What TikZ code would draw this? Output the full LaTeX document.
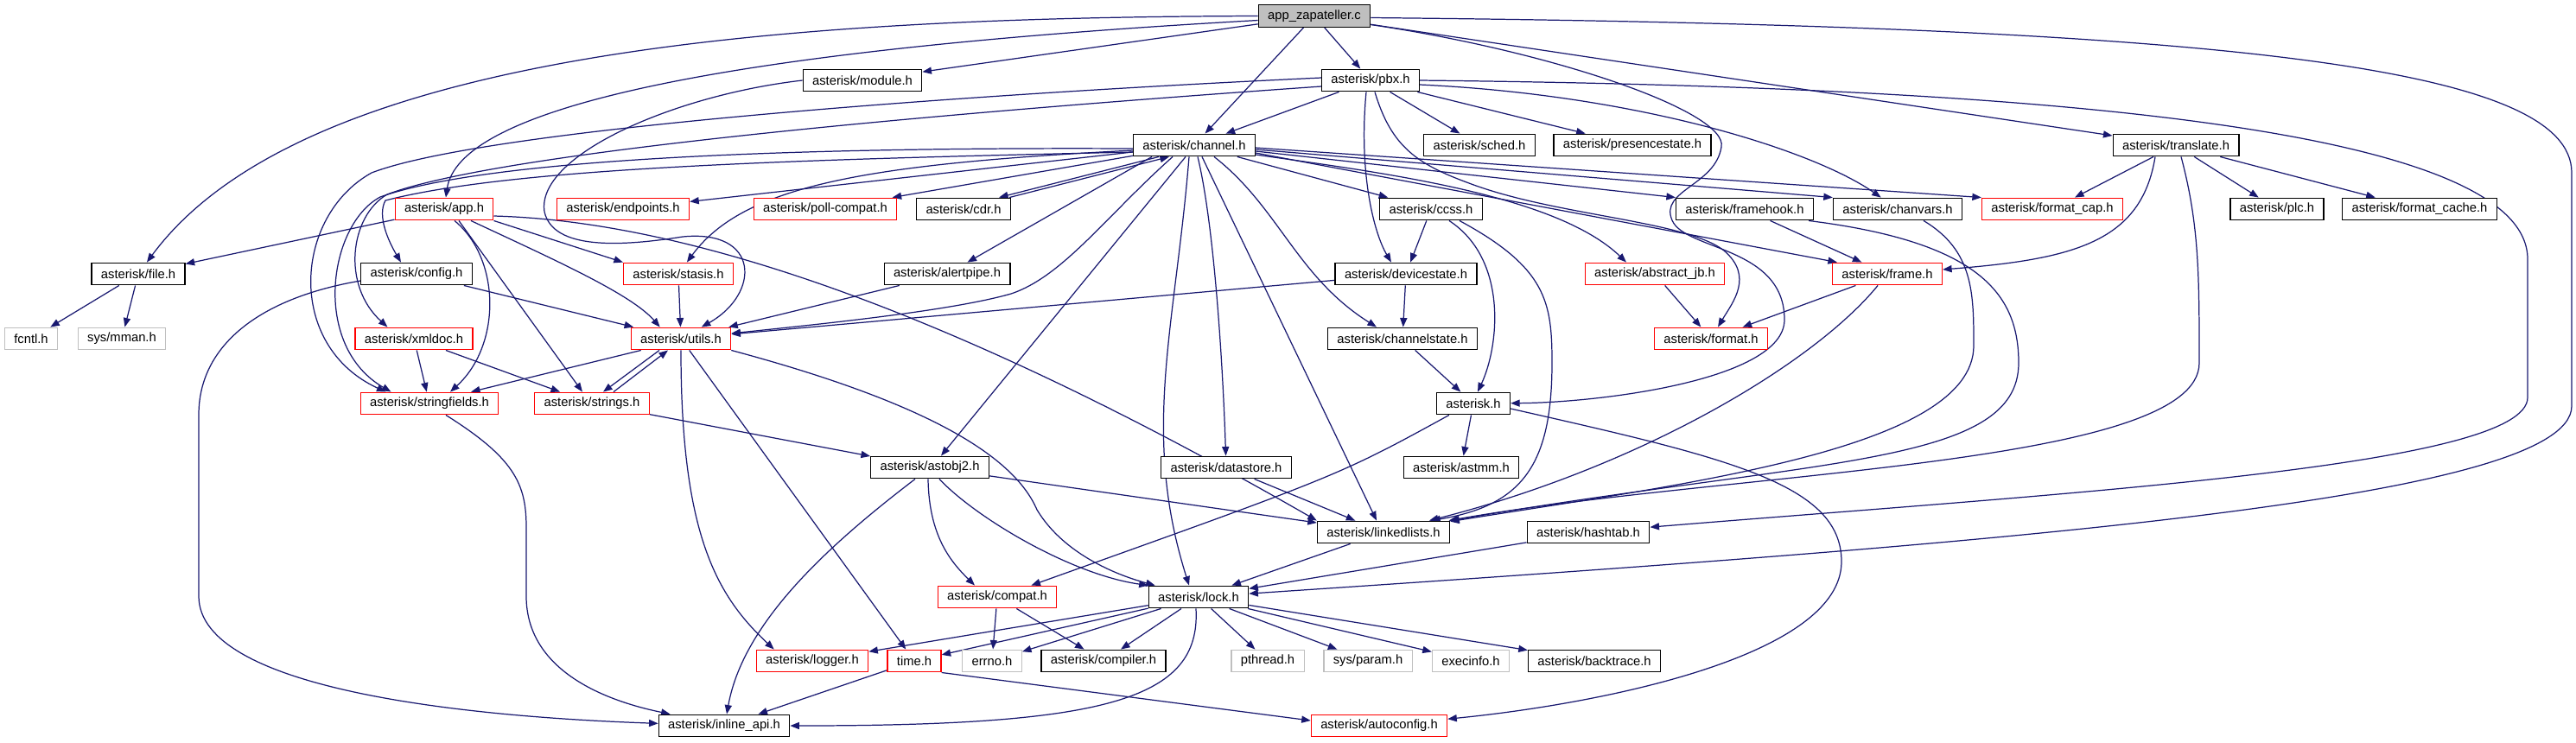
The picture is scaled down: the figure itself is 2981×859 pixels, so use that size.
\documentclass[tikz,border=0pt]{standalone}
\usepackage{fontspec}
\setmainfont{Liberation Sans}
\usetikzlibrary{arrows.meta,calc}
\definecolor{edgeblue}{RGB}{25,25,112}
\definecolor{boxred}{RGB}{255,0,0}
\definecolor{boxgray}{RGB}{191,191,191}
\pgfdeclarelayer{edges}
\pgfsetlayers{edges,main}

\tikzset{
  hdr/.style={draw=black, line width=0.35pt, fill=white, inner xsep=3.1pt, inner ysep=0pt,
    minimum height=7.3pt, font=\fontsize{4.2}{5}\selectfont},
  trunc/.style={hdr, draw=boxred},
  sys/.style={hdr, draw=boxgray},
  rootbox/.style={hdr, fill=boxgray},
  inc/.style={draw=edgeblue, line width=0.35pt, -{Triangle[length=3pt,width=2.3pt]}},
}

\begin{document}
\begin{tikzpicture}[x=0.01cm, y=-0.01cm]
\useasboundingbox (0,0) rectangle (2981,859);

% headers, row by row
\node[rootbox] (root) at (1521,18.5) {app\_zapateller.c};

\node[hdr] (module) at (998,93) {asterisk/module.h};
\node[hdr] (pbx) at (1586,93) {asterisk/pbx.h};

\node[hdr] (channel) at (1382,168) {asterisk/channel.h};
\node[hdr] (sched) at (1712,168) {asterisk/sched.h};
\node[hdr] (presence) at (1889,168) {asterisk/presencestate.h};
\node[hdr] (translate) at (2518,168) {asterisk/translate.h};

\node[trunc] (app) at (514,242) {asterisk/app.h};
\node[trunc] (endpoints) at (721,242) {asterisk/endpoints.h};
\node[trunc] (pollcompat) at (955,242) {asterisk/poll-compat.h};
\node[hdr] (cdr) at (1115,242) {asterisk/cdr.h};
\node[hdr] (ccss) at (1656,242) {asterisk/ccss.h};
\node[hdr] (framehook) at (2019,242) {asterisk/framehook.h};
\node[hdr] (chanvars) at (2196,242) {asterisk/chanvars.h};
\node[trunc] (formatcap) at (2375,242) {asterisk/format\_cap.h};
\node[hdr] (plc) at (2635,242) {asterisk/plc.h};
\node[hdr] (formatcache) at (2800,242) {asterisk/format\_cache.h};

\node[hdr] (file) at (160,317) {asterisk/file.h};
\node[hdr] (config) at (482,317) {asterisk/config.h};
\node[trunc] (stasis) at (785,317) {asterisk/stasis.h};
\node[hdr] (alertpipe) at (1096,317) {asterisk/alertpipe.h};
\node[hdr] (devicestate) at (1627,317) {asterisk/devicestate.h};
\node[trunc] (abstractjb) at (1915,317) {asterisk/abstract\_jb.h};
\node[trunc] (frame) at (2184,317) {asterisk/frame.h};

\node[sys] (fcntl) at (36,392) {fcntl.h};
\node[sys] (mman) at (141,392) {sys/mman.h};
\node[trunc] (xmldoc) at (479,392) {asterisk/xmldoc.h};
\node[trunc] (utils) at (788,392) {asterisk/utils.h};
\node[hdr] (channelstate) at (1623,392) {asterisk/channelstate.h};
\node[trunc] (format) at (1980,392) {asterisk/format.h};

\node[trunc] (stringfields) at (497,467) {asterisk/stringfields.h};
\node[trunc] (strings) at (685,467) {asterisk/strings.h};
\node[hdr] (asterisk) at (1705,467) {asterisk.h};

\node[hdr] (astobj2) at (1076,541) {asterisk/astobj2.h};
\node[hdr] (datastore) at (1419,541) {asterisk/datastore.h};
\node[hdr] (astmm) at (1691,541) {asterisk/astmm.h};

\node[hdr] (linkedlists) at (1601,616) {asterisk/linkedlists.h};
\node[hdr] (hashtab) at (1838,616) {asterisk/hashtab.h};

\node[trunc] (compat) at (1154,691) {asterisk/compat.h};
\node[hdr] (lock) at (1387,691) {asterisk/lock.h};

\node[trunc] (logger) at (940,765) {asterisk/logger.h};
\node[trunc] (time) at (1058,765) {time.h};
\node[sys] (errno) at (1148,765) {errno.h};
\node[hdr] (compiler) at (1277,765) {asterisk/compiler.h};
\node[sys] (pthread) at (1467,765) {pthread.h};
\node[sys] (sysparam) at (1583,765) {sys/param.h};
\node[sys] (execinfo) at (1702,765) {execinfo.h};
\node[hdr] (backtrace) at (1845,765) {asterisk/backtrace.h};

\node[hdr] (inlineapi) at (838,840) {asterisk/inline\_api.h};
\node[trunc] (autoconfig) at (1596,840) {asterisk/autoconfig.h};

\begin{pgfonlayer}{edges}
% app_zapateller.c
\draw[inc] (root) -- (module);
\draw[inc] (root) -- (pbx);
\draw[inc] (root) -- (channel);
\draw[inc] (root) -- (translate);
\draw[inc] (root.west) .. controls (900,20) and (350,60) .. (file);
\draw[inc] ($(root.west)+(0,5)$) .. controls (800,60) and (530,130) .. (app);
\draw[inc] ($(root.east)+(0,10)$) .. controls (1800,60) and (2000,130) .. (1992,170)
  .. controls (1985,215) and (1920,220) .. (1935,255)
  .. controls (1950,290) and (2065,285) .. (2065,370)
  .. controls (2065,440) and (1850,466) .. (asterisk);
\draw[inc] ($(root.east)+(0,2)$) .. controls (2600,30) and (2976,80) .. (2976,200) -- (2976,470)
  .. controls (2976,580) and (2300,630) .. (lock);

% pbx.h
\draw[inc] (pbx) -- (channel);
\draw[inc] (pbx) -- (sched);
\draw[inc] (pbx) -- (presence);
\draw[inc] ($(pbx.south)+(-5,0)$) .. controls (1572,200) and (1590,270) .. ($(devicestate.north)+(-17,0)$);
\draw[inc] ($(pbx.east)+(0,5)$) .. controls (1900,110) and (2100,175) .. (chanvars);
\draw[inc] (pbx.east) .. controls (2300,100) and (2925,140) .. (2925,300) -- (2925,460)
  .. controls (2925,540) and (2400,570) .. (hashtab);
\draw[inc] ($(pbx.west)+(0,-3)$) .. controls (1100,110) and (560,150) .. (430,200)
  .. controls (340,250) and (330,400) .. ($(stringfields.north west)+(30,0)$);
\draw[inc] ($(pbx.west)+(0,7)$) .. controls (1100,130) and (580,175) .. (448,225)
  .. controls (405,250) and (395,330) .. ($(xmldoc.north west)+(38,0)$);
\draw[inc] ($(pbx.south)+(5,0)$) .. controls (1610,170) and (1640,190) .. (1700,212)
  .. controls (1800,250) and (1950,255) .. (1995,290)
  .. controls (2030,320) and (2005,350) .. (format);

% channel.h
\draw[inc] (channel) -- (endpoints);
\draw[inc] (channel) -- (pollcompat);
\draw[inc] ($(channel.south west)+(30,0)$) -- ($(cdr.north east)+(-14,0)$);
\draw[inc] ($(cdr.north east)+(-2,0)$) -- ($(channel.south west)+(42,0)$);
\draw[inc] ($(channel.south)+(-49,0)$) -- (alertpipe);
\draw[inc] ($(channel.south)+(-25,0)$) .. controls (1280,250) and (1230,320) .. (1170,340)
  .. controls (1100,360) and (950,375) .. (utils);
\draw[inc] ($(channel.south)+(-10,0)$) -- ($(astobj2.north)+(13,0)$);
\draw[inc] ($(channel.south)+(-6,0)$) .. controls (1360,380) and (1320,500) .. ($(lock.north)+(-11,0)$);
\draw[inc] ($(channel.south)+(4,0)$) .. controls (1405,260) and (1415,420) .. (datastore);
\draw[inc] ($(channel.south)+(9,0)$) -- ($(linkedlists.north)+(-8,0)$);
\draw[inc] ($(channel.south)+(23,0)$) .. controls (1480,240) and (1500,320) .. ($(channelstate.north)+(-30,0)$);
\draw[inc] (channel) -- (ccss);
\draw[inc] ($(channel.east)+(0,3)$) -- (formatcap.north west);
\draw[inc] ($(channel.east)+(0,5)$) -- (chanvars.north west);
\draw[inc] ($(channel.east)+(0,7)$) -- (framehook.north west);
\draw[inc] ($(channel.east)+(0,9)$) -- ($(frame.north west)+(6,0)$);
\draw[inc] ($(channel.east)+(0,11)$) .. controls (1600,200) and (1800,225) .. ($(abstractjb.north)+(-33,0)$);
\draw[inc] ($(channel.west)+(0,6)$) .. controls (1000,190) and (860,215) .. (stasis);
\draw[inc] ($(channel.west)+(0,4)$) .. controls (900,170) and (560,185) .. (440,228)
  .. controls (380,260) and (360,400) .. ($(stringfields.north west)+(36,0)$);
\draw[inc] ($(channel.west)+(0,8)$) .. controls (900,185) and (590,195) .. (446,232)
  .. controls (436,250) and (450,280) .. ($(config.north)+(-18,0)$);

% module.h
\draw[inc] (module.west) .. controls (780,110) and (620,180) .. (630,245)
  .. controls (640,290) and (720,285) .. (790,274)
  .. controls (880,265) and (880,340) .. (utils);

% app.h
\draw[inc] (app) -- (file);
\draw[inc] ($(app.south)+(12,0)$) .. controls (580,300) and (580,400) .. ($(stringfields.north)+(24,0)$);
\draw[inc] ($(app.south)+(17,0)$) -- ($(strings.north)+(-11,0)$);
\draw[inc] ($(app.south)+(31,0)$) .. controls (640,300) and (730,340) .. ($(utils.north west)+(34,0)$);
\draw[inc] (app.south east) -- (stasis.north west);
\draw[inc] ($(app.east)+(0,8)$) .. controls (760,255) and (1050,330) .. (linkedlists.north west);

% file.h, config.h, xmldoc.h
\draw[inc] (file) -- (fcntl);
\draw[inc] (file) -- (mman);
\draw[inc] (config) -- (utils);
\draw[inc] ($(config.west)+(0,8)$) .. controls (300,345) and (230,400) .. (230,480) -- (230,690)
  .. controls (230,800) and (550,830) .. (inlineapi);
\draw[inc] (xmldoc) -- (stringfields);
\draw[inc] (xmldoc) -- (strings);

% stasis.h, alertpipe.h, devicestate.h, ccss.h
\draw[inc] (stasis) -- (utils);
\draw[inc] (alertpipe) -- (utils);
\draw[inc] (devicestate) -- (utils);
\draw[inc] (devicestate) -- (channelstate);
\draw[inc] (channelstate) -- (asterisk);
\draw[inc] (ccss) -- (devicestate);
\draw[inc] ($(ccss.south)+(21,0)$) .. controls (1745,300) and (1735,400) .. ($(asterisk.north)+(5,0)$);
\draw[inc] ($(ccss.south)+(33,0)$) .. controls (1790,310) and (1796,350) .. (1796,420)
  .. controls (1796,540) and (1760,585) .. ($(linkedlists.north east)+(-22,0)$);

% utils.h, strings.h, stringfields.h
\draw[inc] ($(utils.south west)+(12,0)$) -- ($(stringfields.north)+(48,0)$);
\draw[inc] ($(utils.south)+(-25,0)$) -- ($(strings.north)+(13,0)$);
\draw[inc] ($(strings.north)+(25,0)$) -- ($(utils.south)+(-15,0)$);
\draw[inc] (utils.south) .. controls (788,620) and (830,690) .. ($(logger.north west)+(21,0)$);
\draw[inc] (utils) -- (time);
\draw[inc] (utils.south east) .. controls (1050,460) and (1170,520) .. (1200,590)
  .. controls (1230,640) and (1290,665) .. ($(lock.north west)+(8,0)$);
\draw[inc] (strings) -- (astobj2);
\draw[inc] ($(stringfields.south)+(19,0)$) .. controls (595,530) and (609,560) .. (609,610) -- (609,690)
  .. controls (609,785) and (720,815) .. ($(inlineapi.north west)+(14,0)$);

% astobj2.h, datastore.h
\draw[inc] (astobj2) -- (linkedlists);
\draw[inc] ($(astobj2.south)+(-2,0)$) .. controls (1075,620) and (1100,650) .. ($(compat.north)+(-26,0)$);
\draw[inc] ($(astobj2.south)+(11,0)$) .. controls (1130,600) and (1240,665) .. (lock.north west);
\draw[inc] ($(astobj2.south)+(-17,0)$) .. controls (960,630) and (860,720) .. ($(inlineapi.north)+(3,0)$);
\draw[inc] (datastore) -- (linkedlists);

% asterisk.h
\draw[inc] ($(asterisk.south west)+(15,0)$) .. controls (1550,550) .. ($(compat.north east)+(-30,0)$);
\draw[inc] (asterisk) -- (astmm);
\draw[inc] ($(asterisk.east)+(0,6)$) .. controls (2000,530) and (2131,560) .. (2131,650)
  .. controls (2131,760) and (1850,815) .. (autoconfig);

% frame side
\draw[inc] (abstractjb) -- (format);
\draw[inc] (frame) -- (format);
\draw[inc] (framehook) -- (frame);
\draw[inc] (frame) .. controls (2100,420) and (1900,540) .. (linkedlists);
\draw[inc] ($(framehook.south east)+(-6,0)$) .. controls (2290,280) and (2336,340) .. (2336,420)
  .. controls (2336,540) and (2100,530) .. (linkedlists);
\draw[inc] ($(chanvars.south)+(30,0)$) .. controls (2284,290) and (2284,340) .. (2284,400)
  .. controls (2284,520) and (1950,560) .. (linkedlists);

% translate.h
\draw[inc] (translate) -- (formatcap);
\draw[inc] (translate) -- (plc);
\draw[inc] (translate) -- (formatcache);
\draw[inc] ($(translate.south)+(-24,0)$) .. controls (2478,280) and (2400,300) .. (frame);
\draw[inc] ($(translate.south)+(6,0)$) .. controls (2545,260) and (2545,320) .. (2545,420)
  .. controls (2545,540) and (2000,545) .. (linkedlists);

% lock.h and below
\draw[inc] (linkedlists) -- (lock);
\draw[inc] (hashtab) -- (lock);
\draw[inc] (lock) -- (logger);
\draw[inc] (lock) -- (time);
\draw[inc] (lock) -- (errno);
\draw[inc] (lock) -- (compiler);
\draw[inc] (lock) -- (pthread);
\draw[inc] (lock) -- (sysparam);
\draw[inc] (lock) -- (execinfo);
\draw[inc] (lock) -- (backtrace);
\draw[inc] ($(lock.south)+(-3,0)$) .. controls (1390,810) and (1280,840) .. (inlineapi);
\draw[inc] (compat) -- (errno);
\draw[inc] (compat) -- (compiler);
\draw[inc] (time) -- (inlineapi);
\draw[inc] (time.south east) -- ($(autoconfig.west)+(0,-6)$);
\end{pgfonlayer}
\end{tikzpicture}
\end{document}
